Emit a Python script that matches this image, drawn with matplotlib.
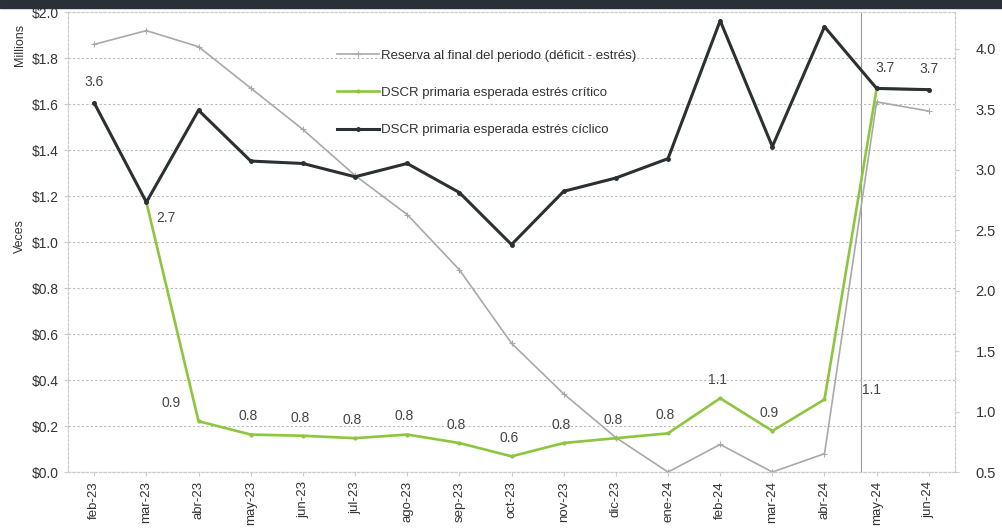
import matplotlib
matplotlib.use("Agg")
import matplotlib.pyplot as plt
import numpy as np
from matplotlib.patches import Rectangle

plt.rcParams['font.family'] = ['Liberation Sans', 'DejaVu Sans']

categories = ["feb-23", "mar-23", "abr-23", "may-23", "jun-23", "jul-23", "ago-23",
              "sep-23", "oct-23", "nov-23", "dic-23", "ene-24", "feb-24", "mar-24",
              "abr-24", "may-24", "jun-24"]

reserva = [1.86, 1.92, 1.85, 1.67, 1.49, 1.29, 1.12, 0.88, 0.56, 0.34, 0.15, 0.00,
           0.12, 0.00, 0.08, 1.61, 1.57]

dscr_critico = [np.nan, 2.73, 0.92, 0.81, 0.80, 0.78, 0.81, 0.74, 0.63, 0.74, 0.78,
                0.82, 1.11, 0.84, 1.10, 3.67, 3.66]

dscr_ciclico = [3.55, 2.73, 3.49, 3.07, 3.05, 2.94, 3.05, 2.81, 2.38, 2.82, 2.93,
                3.09, 4.23, 3.19, 4.18, 3.67, 3.66]

critico_labels = ["", "", "0.9", "0.8", "0.8", "0.8", "0.8", "0.8", "0.6", "0.8",
                  "0.8", "0.8", "1.1", "0.9", "1.1", "", ""]
ciclico_labels = ["3.6", "2.7", "", "", "", "", "", "", "", "", "", "", "", "", "",
                  "3.7", "3.7"]

left_ticks = [0.0, 0.2, 0.4, 0.6, 0.8, 1.0, 1.2, 1.4, 1.6, 1.8, 2.0]
right_ticks = [0.5, 1.0, 1.5, 2.0, 2.5, 3.0, 3.5, 4.0]

fig = plt.figure(figsize=(10.02, 5.31), dpi=100)
ax = fig.add_axes([0.068, 0.111, 0.885, 0.866])
ax2 = ax.twinx()

x = np.arange(len(categories))

gray_c = '#a9a9a9'
green_c = '#8cc63f'
black_c = '#2b3033'

ax.plot(x, reserva, color=gray_c, lw=1.2, marker='+', ms=4, mew=0.8,
        label='Reserva al final del periodo (déficit - estrés)', zorder=2)
ax.set_ylim(0, 2.0)
ax.set_xlim(-0.5, 16.5)
ax.set_yticks(left_ticks)
ax.set_yticklabels([f"${v:.1f}" for v in left_ticks], fontsize=10, color='#333333')
ax.yaxis.grid(True, linestyle=(0, (2, 2)), color='#bbbbbb', lw=0.8)
ax.set_xticks(x)
ax.set_xticklabels(categories, rotation=90, fontsize=9.5, color='#333333')
ax.tick_params(axis='both', length=3, color='#cccccc')

l2, = ax2.plot(x, dscr_critico, color=green_c, lw=1.9, marker='.', ms=4,
               label='DSCR primaria esperada estrés crítico', zorder=3)
l3, = ax2.plot(x, dscr_ciclico, color=black_c, lw=2.2, marker='.', ms=5,
               label='DSCR primaria esperada estrés cíclico', zorder=4)
ax2.set_ylim(0.5, 4.3)
ax2.set_yticks(right_ticks)
ax2.set_yticklabels([f"{v:.1f}" for v in right_ticks], fontsize=10.5, color='#333333')
ax2.tick_params(axis='y', length=3, color='#cccccc', pad=12)

for a in (ax, ax2):
    for s in a.spines.values():
        s.set_linestyle((0, (2, 2)))
        s.set_color('#cccccc')
        s.set_linewidth(0.8)

# vertical marker line
ax.axvline(14.7, color='#999999', lw=0.8, zorder=1)

# data labels
for i, t in enumerate(critico_labels):
    if t:
        dx, dy = -2, 8
        if i == 2:
            dx = -20
        if i == 14:
            dx, dy = 34, 2
        ax2.annotate(t, (x[i], dscr_critico[i]), xytext=(dx, dy),
                     textcoords='offset points', ha='center', va='bottom',
                     fontsize=10, color='#444444')
for i, t in enumerate(ciclico_labels):
    if t:
        dx, dy = 0, 10
        va = 'bottom'
        if i == 1:
            dx, dy = 14, -6
            va = 'top'
        if i == 15:
            dx = 6
        ax2.annotate(t, (x[i], dscr_ciclico[i]), xytext=(dx, dy),
                     textcoords='offset points', ha='center', va=va,
                     fontsize=10, color='#444444')

h1, lab1 = ax.get_legend_handles_labels()
leg = ax2.legend(h1 + [l2, l3], lab1 + [l2.get_label(), l3.get_label()],
                 loc='upper left', bbox_to_anchor=(0.29, 0.945), frameon=False,
                 fontsize=9.5, handlelength=3.2, handletextpad=0.1,
                 labelspacing=1.9)
for t in leg.get_texts():
    t.set_color('#333333')

fig.text(0.014, 0.915, 'Millions', rotation=90, fontsize=9, ha='left', va='center',
         color='#333333')
fig.text(0.014, 0.555, 'Veces', rotation=90, fontsize=9, ha='left', va='center',
         color='#333333')

# scan edge band at top
fig.patches.append(Rectangle((0, 0.985), 1, 0.015, transform=fig.transFigure,
                             color='#2a3036', zorder=0))

fig.savefig('out.png', dpi=100)
